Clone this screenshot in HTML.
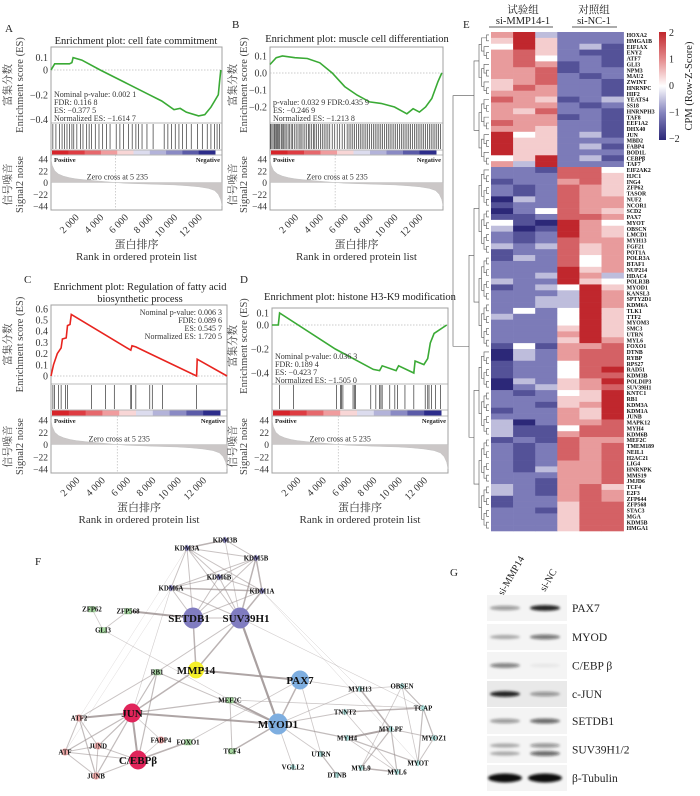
<!DOCTYPE html>
<html><head><meta charset="utf-8">
<style>
html,body{margin:0;padding:0;background:#fff;}
svg{display:block;font-family:"Liberation Serif","Noto Serif CJK SC",serif;}
</style></head>
<body>
<svg id="fig" width="700" height="796" viewBox="0 0 700 796" xmlns="http://www.w3.org/2000/svg">
<defs>
<filter id="blur1" x="-50%" y="-100%" width="200%" height="300%"><feGaussianBlur stdDeviation="1.3"/></filter>
<linearGradient id="cbGrad" x1="0" y1="0" x2="0" y2="1">
<stop offset="0" stop-color="#c0272d"/><stop offset="0.25" stop-color="#e48a8c"/><stop offset="0.5" stop-color="#ffffff"/><stop offset="0.75" stop-color="#8483bd"/><stop offset="1" stop-color="#2c2878"/>
</linearGradient>
</defs>
</svg>
<script>
// ---------- GSEA data ----------
const sigRanks=[0,100,300,600,1000,1500,2000,3000,4000,5235,6000,8000,10000,11000,12000,12800,13300,13600,13800,13900];
const sigValues=[44,32,22,16,12,9,7,4.5,2.5,0,-1.5,-3,-4.5,-6,-8,-11,-15,-22,-32,-44];
const rankTicks=[2000,4000,6000,8000,10000,12000];
const rankTickLabels=["2 000","4 000","6 000","8 000","10 000","12 000"];
const sigTicks=[44,22,0,-22,-44];
const sigTickLabels=["44","22","0","\u221222","\u221244"];

const esRanksA=[0,300,1500,1700,1800,2500,4000,6000,8000,9000,10000,10500,11000,12000,12500,13000,13300,13600,13700,13800];
const esValuesA=[0,0.05,0.05,0.06,0.1,0.08,0.0,-0.1,-0.2,-0.25,-0.32,-0.31,-0.34,-0.37,-0.36,-0.3,-0.25,-0.2,-0.1,0.0];
const hitsA=[150,400,700,900,1100,1300,1500,1700,1850,2100,2400,2600,2900,3100,3300,3600,3900,4200,4500,4800,5300,5600,5900,6300,6600,6900,7100,7400,7800,8300,9200,9500,9800,10100,10400,10700,11000,11400,11900,12300,12700,13000,13300,13500,13700];
const esTicksA=[0.1,0,-0.2,-0.4];
const esTickLabelsA=["0.1","0","\u22120.2","\u22120.4"];

const esRanksB=[0,500,1000,2000,3000,4000,5000,6000,7000,8000,9000,10000,11000,11500,12000,12500,13000,13500,13800];
const esValuesB=[0.05,0.09,0.1,0.09,0.085,0.06,0.0,-0.08,-0.13,-0.17,-0.18,-0.2,-0.24,-0.21,-0.23,-0.2,-0.15,-0.05,0.0];
const hitsB=[50,150,250,350,420,520,600,700,780,900,980,1100,1200,1300,1450,1550,1700,1800,1950,2100,2250,2400,2500,2650,2800,2950,3100,3200,3350,3500,3600,3750,3900,4050,4200,4350,4500,4650,4800,5000,5200,5400,5600,5800,6000,6200,6350,6500,6650,6800,6950,7100,7250,7400,7550,7700,7850,8000,8150,8300,8450,8600,8750,8900,9050,9200,9350,9500,9650,9800,9950,10100,10250,10400,10550,10700,10850,11000,11150,11300,11450,11600,11750,11900,12050,12200,12350,12500,12650,12800,12950,13100,13250,13400,13550,13700];
const esTicksB=[0.1,0,-0.1,-0.2];
const esTickLabelsB=["0.1","0.0","\u22120.1","\u22120.2"];

const esRanksC=[0,200,500,800,900,1200,1300,1500,1600,6300,6400,6700,7800,11500,11550,13900];
const esValuesC=[0,0.1,0.2,0.25,0.33,0.34,0.45,0.46,0.55,0.23,0.27,0.26,0.2,0,0.15,0];
const hitsC=[150,280,600,800,1150,1300,3200,4300,5000,6300,6350,6700,7800,8000,8800,11500];
const esTicksC=[0.6,0.5,0.4,0.3,0.2,0.1,0];
const esTickLabelsC=["0.6","0.5","0.4","0.3","0.2","0.1","0"];

const esRanksD=[0,500,600,5000,8000,8500,8700,9800,10000,11200,11300,12000,12300,12500,12800,13800];
const esValuesD=[0,0,0.1,-0.2,-0.37,-0.38,-0.34,-0.38,-0.34,-0.4,-0.3,-0.33,-0.28,-0.15,-0.07,0];
const hitsD=[600,1700,5100,5400,5500,5600,6400,6500,6600,7800,8200,8500,8600,8700,9300,9700,9900,10500,11200,12100,12300,12400,12600,12900,13300];
const esTicksD=[0.1,0,-0.2,-0.4];
const esTickLabelsD=["0.1","0.0","\u22120.2","\u22120.4"];

// ---------- heatmap data ----------
const genes=["HOXA2","HMGA1B","EIF1AX","ENY2","ATF7","GLI3","NPM3","MAU2","ZWINT","HNRNPC","HIF2","YEATS4","SS18","HNRNPH3","TAF8","EEF1A2","DHX40","JUN","MBD2","FABP4","BOD1L","CEBPβ","TAF7",
"EIF2AK2","HJC1","ING4","ZFP62","TASOR","NUF2","NCOR1","SCD2","PAX7","MYOT","OBSCN","LMCD1","MYH13","FGF21","POT1A","POLR3A","BTAF1","NUP214","HDAC4","POLR3B","MYOD1","KANSL3","SPTY2D1","KDM6A","TLK1","TTF2","MYOM3","SMC3","UTRN","MYL6","FOXO1","DTNB","RYBP","RPS27","RAD51","KDM3B","POLDIP3","SUV39H1","KNTC1","RB1","KDM3A","KDM1A","JUNB","MAPK12","MYH4","KDM6B","MEF2C","TMEM189","NEIL1","H2AC21","LIG4","HNRNPK","MMS19","JMJD6","TCF4","E2F3","ZFP644","ZFP568","STAC3","MGA","KDM5B","HMGA1"];
// each char = z-score level 0..8 -> -2..+2
const heatRows=["683222","585222","485231","675211","674221","676121","667122","667212","567221","576221","666221","765123","666212","657221","666121","766221","665221","845231","855222","855231","855222","458231","638222",
"221774","222775","122675","212765","212765","032766","122766","024765","112776","410864","301865","212865","212766","323756","122756","132746","222746","222856","223863","322854","123485","222386","223386","223386","242485","322485","222485","222585","222685","222586","141667","032677","032677","122477","122478","122477","032568","023567","212458","222558","221568","122658","222658","302667","311477","311677","121766","212767","212767","212767","212667","213667","222667","221667","321675","321676","122676","122577","221577","222577","222577","222577"];

// ---------- network ----------
const netNodes=[
["KDM3B",225,540,"p",3],["KDM3A",187,548,"p",3],["KDM5B",256,558,"p",3],["KDM6B",219,577,"p",3],["KDM6A",171,588,"p",3],["KDM1A",262,591,"p",3],
["ZFP62",92,609,"g",3],["ZFP568",128,611,"g",3],["GLI3",103,630,"g",3],
["SETDB1",193,618,"P",10],["SUV39H1",240,618,"P",10],
["MMP14",196,670,"y",8],["RB1",157,672,"g",3],["PAX7",300,680,"b",9],["MEF2C",230,700,"g",3],
["JUN",132,713,"r",9],["ATF2",79,718,"k",3.5],["MYOD1",278,724,"b",10],["FABP4",161,740,"k",3.5],["FOXO1",188,742,"g",3],
["JUND",98,746,"k",3.5],["ATF",65,752,"k",3.5],["TCF4",232,751,"g",3],["C/EBPβ",138,760,"r",9],["JUNB",96,776,"k",3.5],
["UTRN",321,754,"c",3],["VGLL2",293,767,"c",3],["DTNB",337,775,"c",3],["MYH13",360,689,"c",3],["OBSEN",402,686,"c",3],["TNNT2",345,712,"c",3],
["TCAP",423,708,"c",3],["MYLPF",391,729,"c",3],["MYH4",347,738,"c",3],["MYOZ1",434,738,"c",3],["MYOT",418,763,"c",3],["MYL9",361,768,"c",3],["MYL6",397,772,"c",3]];
const netEdges=[
["KDM3B","KDM3A",1.5],["KDM3B","KDM5B",1],["KDM3A","KDM5B",1],["KDM3A","KDM6B",1],["KDM3A","KDM1A",1],["KDM3A","KDM6A",1],["KDM5B","KDM6B",1],["KDM5B","KDM6A",1],["KDM5B","KDM1A",1.5],["KDM6B","KDM6A",1],["KDM6B","KDM1A",1],["KDM6A","KDM1A",1.5],
["KDM3A","SETDB1",1],["KDM3A","SUV39H1",1],["KDM5B","SETDB1",1],["KDM5B","SUV39H1",1.5],["KDM6B","SETDB1",1],["KDM6B","SUV39H1",1],["KDM6A","SETDB1",1],["KDM6A","SUV39H1",1],["KDM1A","SETDB1",1],["KDM1A","SUV39H1",1.5],["KDM3B","SUV39H1",0.8],
["ZFP62","GLI3",0.8],["ZFP568","GLI3",0.8],["ZFP568","SETDB1",2],["SETDB1","SUV39H1",1],["SETDB1","MMP14",1.5],["SUV39H1","MMP14",1.5],["SUV39H1","MYOD1",2.2],["SUV39H1","RB1",1],["SUV39H1","TCAP",0.6],
["MMP14","PAX7",2],["MMP14","JUN",1.5],["PAX7","MYOD1",1.5],["JUN","MYOD1",2],["JUN","ATF2",2],["JUN","C/EBPβ",2],["JUN","JUND",1.2],["JUN","JUNB",1.2],["JUN","ATF",1.2],["JUN","MEF2C",1.2],["JUN","RB1",1.2],["JUN","FABP4",0.8],
["ATF2","ATF",1],["ATF2","JUND",1],["ATF2","JUNB",1.2],["ATF","JUNB",1],["JUND","JUNB",1],["ATF","JUND",1],["ATF2","RB1",1],["ATF","C/EBPβ",1],["JUND","C/EBPβ",1],["JUNB","C/EBPβ",1],
["C/EBPβ","FOXO1",1.5],["C/EBPβ","RB1",1.2],["C/EBPβ","FABP4",0.8],["RB1","MYOD1",1],["MEF2C","MYOD1",2],["MEF2C","TCF4",1],["TCF4","MYOD1",1.5],["MEF2C","TCAP",0.8],["FOXO1","PAX7",0.8],
["MYOD1","MYH4",1.2],["MYOD1","UTRN",0.8],["MYOD1","VGLL2",0.8],["MYOD1","TNNT2",1],["MYOD1","MYH13",0.8],["PAX7","MYH13",0.8],["PAX7","UTRN",0.8],
["MYH13","MYLPF",1.5],["MYH13","OBSEN",0.8],["TNNT2","TCAP",1.5],["OBSEN","TCAP",1.2],["OBSEN","MYOT",0.8],["OBSEN","MYL9",0.8],["TCAP","MYOZ1",1.2],["TCAP","MYOT",1.2],["MYH4","MYLPF",2],["MYLPF","MYOZ1",1],["MYLPF","MYL9",1.2],["MYLPF","MYL6",1.2],["MYL9","MYL6",1.5],["MYH4","MYOT",1.2],["MYOZ1","MYOT",1],["UTRN","DTNB",1.2],["MYH4","MYL6",0.8],["TNNT2","MYL6",0.8],
["GLI3","MEF2C",0.6],["KDM6A","JUN",0.6],["KDM1A","MYOT",0.5],["KDM3A","ATF2",0.4],["KDM6A","ATF",0.4],["KDM1A","MYH13",0.5]];

// ---------- western blot ----------
const blotLabels=["PAX7","MYOD","C/EBP β","c-JUN","SETDB1","SUV39H1/2","β-Tubulin"];
const blotLeft=[0.4,0.3,0.5,0.9,0.4,0.3,1.0];
const blotRight=[0.9,0.55,0.05,0.4,0.6,0.6,1.0];

const NS='http://www.w3.org/2000/svg';
const svg=document.getElementById('fig');
function mk(tag,attrs,parent){const e=document.createElementNS(NS,tag);for(const k in attrs)e.setAttribute(k,attrs[k]);(parent||svg).appendChild(e);return e;}
function txt(str,attrs,parent){const e=mk('text',attrs,parent);e.textContent=str;return e;}

[["A",5,32],["B",232,28],["C",24,283],["D",240,283],["E",463,28],["F",35,565],["G",450,576]].forEach(p=>{
  const t=txt(p[0],{x:p[1],y:p[2],'font-size':11,fill:'#222'});
  
  
});

function gsea(c){
  const g=mk('g',{});
  
  
  const xs=r=>c.L+r/13900*(c.R-c.L);
  const ys=v=>c.zeroY-v*c.ppu;
  const sigZero=(c.barB+c.B)/2, sigS=(c.B-c.barB-8)/88;
  const sy=v=>sigZero-v*sigS;
  c.title.forEach((t,i)=>{const e=txt(t,{x:c.titleX,y:c.titleY+i*12,'font-size':10.5,'text-anchor':'middle',fill:'#222'},g);
    
    });
  const box=mk('rect',{x:c.L,y:c.T,width:c.R-c.L,height:c.B-c.T,fill:'none',stroke:'#a0a0a0','stroke-width':1},g);
  
  
  [c.esB,c.hitB,c.barB].forEach(y=>{const l=mk('line',{x1:c.L,x2:c.R,y1:y,y2:y,stroke:'#a0a0a0','stroke-width':0.8},g);
    
    });
  const z=mk('line',{x1:c.L,x2:c.R,y1:ys(0),y2:ys(0),stroke:'#bbb','stroke-dasharray':'1.5,1.5','stroke-width':0.7},g);
  
  
  c.esTicks.forEach((v,i)=>{const t=txt(c.esLabels[i],{x:c.L-3,y:ys(v)+3.5,'font-size':10,'text-anchor':'end',fill:'#333'},g);
    
    });
  const pts=c.ranks.map((r,i)=>xs(r).toFixed(1)+','+ys(c.values[i]).toFixed(1)).join(' ');
  const pl=mk('polyline',{points:pts,fill:'none',stroke:c.color,'stroke-width':1.6},g);
  
  
  c.stats.forEach((s,i)=>{const t=txt(s,{x:c.sx,y:c.sy+i*8,'font-size':8,'text-anchor':c.sa,fill:'#333'},g);
    
    });
  c.hits.forEach(r=>{const l=mk('line',{x1:xs(r),x2:xs(r),y1:c.esB+1,y2:c.hitB-1,stroke:'#333','stroke-width':0.7},g);
    
    });
  const cols=['#d7242a','#de3c42','#e6686c','#f09c9e','#f8d6d6','#dcdcee','#b3b3d9','#8a8ac4','#5b5ba8','#2c2c8a'];
  const w=(c.R-c.L-8)/cols.length;
  cols.forEach((col,i)=>{const r=mk('rect',{x:c.L+1+i*w,y:c.hitB+0.5,width:w+0.5,height:c.barB-c.hitB-1,fill:col},g);
    
    });
  let sp=xs(0)+','+sy(0)+' ';
  sp+=sigRanks.map((r,i)=>xs(r).toFixed(1)+','+sy(sigValues[i]).toFixed(1)).join(' ');
  sp+=' '+xs(13900)+','+sy(0);
  const pg=mk('polygon',{points:sp,fill:'#cbc7c7',stroke:'#bbb','stroke-width':0.4},g);
  
  
  const zc=mk('line',{x1:xs(5235),x2:xs(5235),y1:c.barB,y2:c.B,stroke:'#bbb','stroke-dasharray':'1.5,1.5','stroke-width':0.7},g);
  
  
  const zt=txt('Zero cross at 5 235',{x:xs(5235)+2,y:sy(0)-3,'font-size':8,'text-anchor':'middle',fill:'#333'},g);
  
  
  const pos=txt('Positive',{x:c.L+3,y:c.barB+7,'font-size':6.5,'font-weight':'bold',fill:'#222'},g);
  
  
  const neg=txt('Negative',{x:c.R-2,y:c.barB+7,'font-size':6.5,'font-weight':'bold','text-anchor':'end',fill:'#222'},g);
  
  
  sigTicks.forEach((v,i)=>{const t=txt(sigTickLabels[i],{x:c.L-3,y:sy(v)+3.5,'font-size':9.5,'text-anchor':'end',fill:'#333'},g);
    
    });
  rankTicks.forEach((r,i)=>{const t=txt(rankTickLabels[i],{x:xs(r)+4,y:c.B+8,'font-size':10,'text-anchor':'end',fill:'#333',transform:`rotate(-45 ${xs(r)+4} ${c.B+8})`},g);
    
    });
  const mid=(c.L+c.R)/2;
  const x1=txt('蛋白排序',{x:mid,y:c.B+38,'font-size':11,'text-anchor':'middle',fill:'#333'},g);
  
  
  const x2=txt('Rank in ordered protein list',{x:mid,y:c.B+50,'font-size':11,'text-anchor':'middle',fill:'#333'},g);
  
  
  const ec=(c.T+c.esB)/2, sc=(c.barB+c.B)/2;
  [['富集分数',c.yl1,ec,'y-axis-title-cn'],['Enrichment score (ES)',c.yl2,ec,'y-axis-title'],['信号噪音',c.yl1,sc+2,'signal-axis-title-cn'],['Signal2 noise',c.yl2,sc+2,'signal-axis-title']].forEach(a=>{
    const t=txt(a[0],{x:a[1],y:a[2],'font-size':10.5,'text-anchor':'middle',fill:'#444',transform:`rotate(-90 ${a[1]} ${a[2]})`},g);
    
    
  });
}
gsea({id:'a',L:51,R:222,T:47,esB:123,hitB:150,barB:155,B:210,zeroY:70,ppu:124,title:['Enrichment plot: cell fate commitment'],titleX:136,titleY:44,
  esTicks:esTicksA,esLabels:esTickLabelsA,ranks:esRanksA,values:esValuesA,hits:hitsA,color:'#3aaa35',
  stats:['Nominal p-value: 0.002 1','FDR: 0.116 8','ES: \u22120.377 5','Normalized ES: \u22121.614 7'],sx:54,sy:97,sa:'start',yl1:11,yl2:23});
gsea({id:'b',L:270,R:443,T:47,esB:123,hitB:150,barB:155,B:210,zeroY:73,ppu:170,title:['Enrichment plot: muscle cell differentiation'],titleX:357,titleY:42,
  esTicks:esTicksB,esLabels:esTickLabelsB,ranks:esRanksB,values:esValuesB,hits:hitsB,color:'#3aaa35',
  stats:['p-value: 0.032 9 FDR:0.435 9','ES: \u22120.246 9','Normalized ES: \u22121.213 8'],sx:273,sy:105,sa:'start',yl1:236,yl2:247});
gsea({id:'c',L:51,R:227,T:305,esB:384,hitB:410,barB:416,B:473,zeroY:376,ppu:112,title:['Enrichment plot: Regulation of fatty acid','biosynthetic process'],titleX:140,titleY:290,
  esTicks:esTicksC,esLabels:esTickLabelsC,ranks:esRanksC,values:esValuesC,hits:hitsC,color:'#e8241f',
  stats:['Nominal p-value: 0.006 3','FDR: 0.089 6','ES: 0.545 7','Normalized ES: 1.720 5'],sx:222,sy:315,sa:'end',yl1:11,yl2:23});
gsea({id:'d',L:272,R:448,T:308,esB:384,hitB:410,barB:416,B:473,zeroY:325,ppu:120,title:['Enrichment plot: histone H3-K9 modification'],titleX:360,titleY:300,
  esTicks:esTicksD,esLabels:esTickLabelsD,ranks:esRanksD,values:esValuesD,hits:hitsD,color:'#3aaa35',
  stats:['Nominal p-value: 0.036 3','FDR: 0.189 4','ES: \u22120.423 7','Normalized ES: \u22121.505 0'],sx:275,sy:359,sa:'start',yl1:236,yl2:247});

// ---------- heatmap ----------
(function(){
  const g=mk('g',{});
  
  
  const x0=491,cw=22.1,y0=32,rh=(531-32)/genes.length;
  const stops=[[44,40,120],[124,123,184],[255,255,255],[232,155,156],[192,39,45]];
  function col(l){const v=l/2;const i=Math.min(3,Math.floor(v));const f=v-i;const a=stops[i],b=stops[i+1];
    return 'rgb('+a.map((c,k)=>Math.round(c+(b[k]-c)*f)).join(',')+')';}
  heatRows.forEach((row,r)=>{
    for(let j=0;j<6;j++){
      const cell=mk('rect',{x:x0+j*cw,y:y0+r*rh,width:cw+0.3,height:rh+0.3,fill:col(+row[j])},g);
      
      
    }
    const t=txt(genes[r],{x:x0+6*cw+3,y:y0+r*rh+rh-0.8,'font-size':5.8,'font-weight':'bold',fill:'#111'},g);
    
    
  });
  function dendro(a,b,depth){
    if(b-a<=1) return {y:y0+a*rh+rh/2,x:489};
    const m=Math.floor((a+b)/2);
    const l=dendro(a,m,depth+1), r=dendro(m,b,depth+1);
    const x=Math.min(l.x,r.x)-(b-a>20?5:2.5);
    const p=mk('path',{d:`M${l.x},${l.y}H${x}V${r.y}H${r.x}`,fill:'none',stroke:'#555','stroke-width':0.6},g);
    
    
    return {y:(l.y+r.y)/2,x:x};
  }
  const up=dendro(0,23,0), lo=dendro(23,genes.length,0);
  const rx=453;
  const root=mk('path',{d:`M${up.x},${up.y}H${rx}V${lo.y}H${lo.x}`,fill:'none',stroke:'#555','stroke-width':0.6},g);
  
  
  [['试验组',523,13],['si-MMP14-1',523,24],['对照组',594,13],['si-NC-1',594,24]].forEach(h=>{
    const t=txt(h[0],{x:h[1],y:h[2],'font-size':10.5,'text-anchor':'middle',fill:'#222'},g);
    
    });
  [[489,553],[572,617]].forEach(u=>{const l=mk('line',{x1:u[0],x2:u[1],y1:27,y2:27,stroke:'#222','stroke-width':0.8},g);
    
    });
  const cb=mk('rect',{x:659,y:32,width:7,height:108,fill:'url(#cbGrad)'},g);
  
  
  ['2','1','0','\u22121','\u22122'].forEach((s,i)=>{const t=txt(s,{x:669,y:36+i*26.5,'font-size':10,fill:'#222'},g);
    
    });
  const ct=txt('CPM (Row-Z-Score)',{x:692,y:86,'font-size':10.5,'text-anchor':'middle',fill:'#222',transform:'rotate(-90 692 86)'},g);
  
  
})();

// ---------- network ----------
(function(){
  const g=mk('g',{});
  
  
  const pos={};netNodes.forEach(n=>pos[n[0]]=n);
  netEdges.forEach(e=>{const a=pos[e[0]],b=pos[e[1]];
    const l=mk('line',{x1:a[1],y1:a[2],x2:b[1],y2:b[2],stroke:'#9a8f8f','stroke-opacity':0.3+e[2]*0.25,'stroke-width':e[2]},g);
    
    });
  const fills={p:'#8985c3',P:'#807cc0',g:'#a5d69f',y:'#f5f02a',b:'#7eaee0',r:'#e0245a',k:'#f0aaaa',c:'#a9dcd8'};
  netNodes.forEach(n=>{
    const [name,x,y,t,r]=n;let s;
    if(t==='g') s=mk('rect',{x:x-3.5,y:y-2.5,width:7,height:5.5,fill:fills[t],stroke:'#8cbf86','stroke-width':0.4},g);
    else if(t==='c'||t==='p') s=mk('polygon',{points:`${x},${y-3.5} ${x+3},${y} ${x},${y+3.5} ${x-3},${y}`,fill:fills[t]},g);
    else s=mk('ellipse',{cx:x,cy:y,rx:r,ry:r*1.05,fill:fills[t]},g);
    
    
    const big=(t==='P'||t==='y'||t==='b'||t==='r');
    let lx=x;
    if(name==='SETDB1') lx=x-4;
    if(name==='SUV39H1') lx=x+6;
    const lb=txt(name,{x:lx,y:y+(big?4:2.5),'font-size':big?11:6.8,'font-weight':'bold','text-anchor':'middle',fill:'#111'},g);
    
    
  });
})();

// ---------- western blot ----------
(function(){
  const g=mk('g',{});
  
  
  const tops=[595,624,652,681,708,736,765], hs=[26,26,27,26,26,27,26];
  const c1=txt('si-MMP14',{x:503,y:596,'font-size':10,fill:'#222',transform:'rotate(-60 503 596)'},g);
  
  
  const c2=txt('si-NC',{x:545,y:592,'font-size':10,fill:'#222',transform:'rotate(-60 545 592)'},g);
  
  
  blotLabels.forEach((lab,i)=>{
    const t0=tops[i],h=hs[i],cy=t0+h/2;
    const bg=mk('rect',{x:487,y:t0,width:80,height:h,fill:i===3?'#e9e9e9':'#f4f4f4'},g);
    
    
    const tub=i===6;
    const drawBand=(cx,v,yy)=>{const e=mk('ellipse',{cx:cx,cy:yy,rx:tub?17:15,ry:tub?4.5:1.8+v*1.2,fill:'#111','fill-opacity':v,filter:'url(#blur1)'},g);
      
      };
    if(i===5){drawBand(505,blotLeft[i],cy-4);drawBand(545,blotRight[i]*0.7,cy-4);drawBand(505,blotLeft[i],cy+4);drawBand(545,blotRight[i],cy+4);}
    else {drawBand(505,blotLeft[i],cy);drawBand(545,blotRight[i],cy);}
    const t=txt(lab,{x:572,y:cy+4,'font-size':11.5,fill:'#222'},g);
    
    
  });
})();
</script>
</body></html>
